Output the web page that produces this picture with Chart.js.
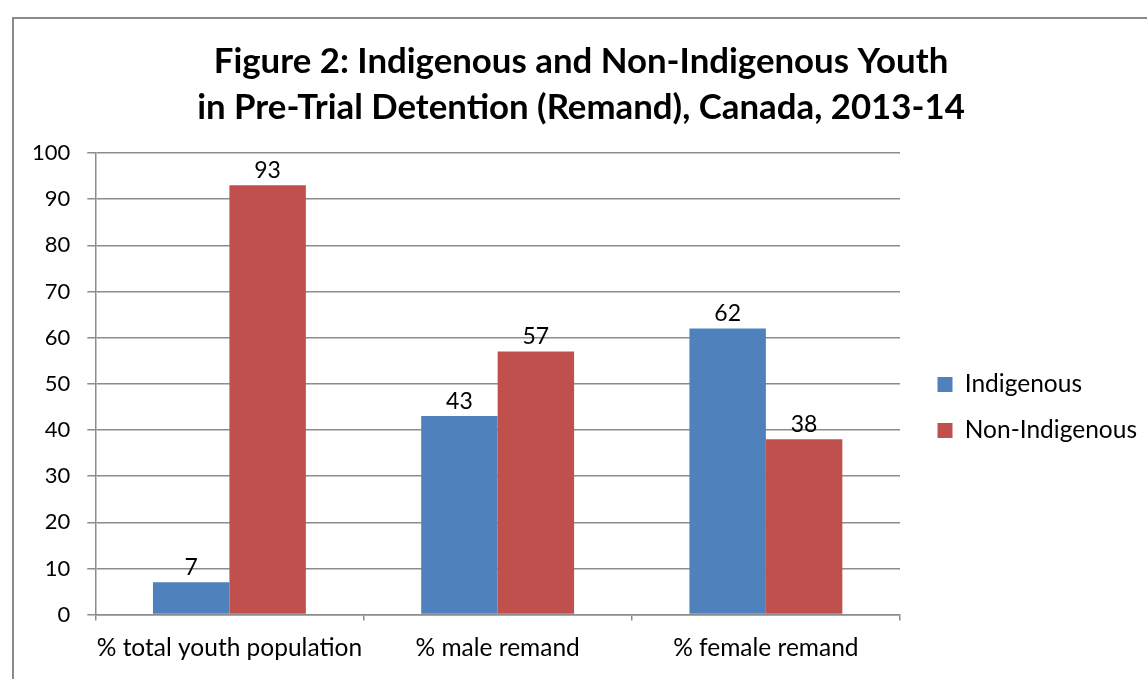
<!DOCTYPE html>
<html>
<head>
<meta charset="utf-8">
<script src="https://cdn.jsdelivr.net/npm/chart.js@4/dist/chart.umd.min.js"></script>
<style>
  html, body { margin: 0; padding: 0; background: #fff; overflow: hidden; }
  #wrap { position: relative; width: 1147px; height: 679px; }
  #frame { position: absolute; left: 12px; top: 17px; width: 1400px; height: 900px; border: 2px solid #8a8a8a; box-sizing: border-box; pointer-events: none; }
  canvas { position: absolute; left: 0; top: 0; }
</style>
</head>
<body>
<div id="wrap">
  <div id="frame"></div>
  <canvas id="c" width="1147" height="679"></canvas>
</div>
<script>
const titleLines = ['Figure 2: Indigenous and Non-Indigenous Youth', 'in Pre-Trial Detention (Remand), Canada, 2013-14'];
const categories = ['% total youth population', '% male remand', '% female remand'];
const indigenous = [7, 43, 62];
const nonIndigenous = [93, 57, 38];
const seriesNames = ['Indigenous', 'Non-Indigenous'];
const yTicks = [0, 10, 20, 30, 40, 50, 60, 70, 80, 90, 100];

const FONT = 'Lato, "Open Sans", sans-serif';
const AXIS_COLOR = '#8c8c8c';

const valueLabels = {
  id: 'valueLabels',
  afterDatasetsDraw(chart) {
    const ctx = chart.ctx;
    ctx.save();
    ctx.font = '23px ' + FONT;
    ctx.fillStyle = '#000';
    ctx.textAlign = 'center';
    ctx.textBaseline = 'bottom';
    chart.data.datasets.forEach((ds, i) => {
      chart.getDatasetMeta(i).data.forEach((bar, j) => {
        ctx.fillText(String(ds.data[j]), bar.x, bar.y - 3);
      });
    });
    ctx.restore();
  }
};

const GAP = 16;
const LEGEND_DY = 50;
const legendGap = {
  id: 'legendGap',
  beforeLayout(chart) {
    const lg = chart.legend;
    if (lg && !lg.__patched) {
      lg.__patched = true;
      const fit = lg.fit.bind(lg);
      const draw = lg.draw.bind(lg);
      lg.fit = function () { fit(); this.width += GAP; };
      lg.draw = function () {
        this.left += GAP; this.top += LEGEND_DY; this.bottom += LEGEND_DY;
        draw();
        this.left -= GAP; this.top -= LEGEND_DY; this.bottom -= LEGEND_DY;
      };
    }
  }
};

new Chart(document.getElementById('c'), {
  type: 'bar',
  data: {
    labels: categories,
    datasets: [
      { label: seriesNames[0], data: indigenous, backgroundColor: '#4F81BD', categoryPercentage: 0.57, barPercentage: 1 },
      { label: seriesNames[1], data: nonIndigenous, backgroundColor: '#C0504D', categoryPercentage: 0.57, barPercentage: 1 }
    ]
  },
  options: {
    responsive: false,
    animation: false,
    layout: { padding: { top: 39, left: 15, right: 0, bottom: 3 } },
    plugins: {
      title: {
        display: true,
        text: titleLines,
        color: '#000',
        font: { family: FONT, size: 34.8, weight: 'bold', lineHeight: 1.3218 },
        padding: { top: 0, bottom: 22 }
      },
      legend: {
        display: true,
        position: 'right',
        labels: {
          color: '#000',
          font: { family: FONT, size: 24.5 },
          boxWidth: 15,
          boxHeight: 15,
          padding: 21.5
        }
      },
      tooltip: { enabled: false }
    },
    scales: {
      x: {
        grid: { drawOnChartArea: false, drawTicks: true, tickLength: 6, color: AXIS_COLOR, lineWidth: 1.5, offset: true },
        border: { color: AXIS_COLOR, width: 1.5 },
        ticks: { color: '#000', font: { family: FONT, size: 24.5 }, padding: 13, maxRotation: 0, autoSkip: false }
      },
      y: {
        min: 0,
        max: 100,
        afterBuildTicks(scale) { scale.ticks = yTicks.map(v => ({ value: v })); },
        grid: { color: AXIS_COLOR, lineWidth: 1.5, tickLength: 8 },
        border: { color: AXIS_COLOR, width: 1.5 },
        ticks: { color: '#000', font: { family: FONT, size: 22 }, padding: 17, autoSkip: false }
      }
    }
  },
  plugins: [valueLabels, legendGap]
});
</script>
</body>
</html>
